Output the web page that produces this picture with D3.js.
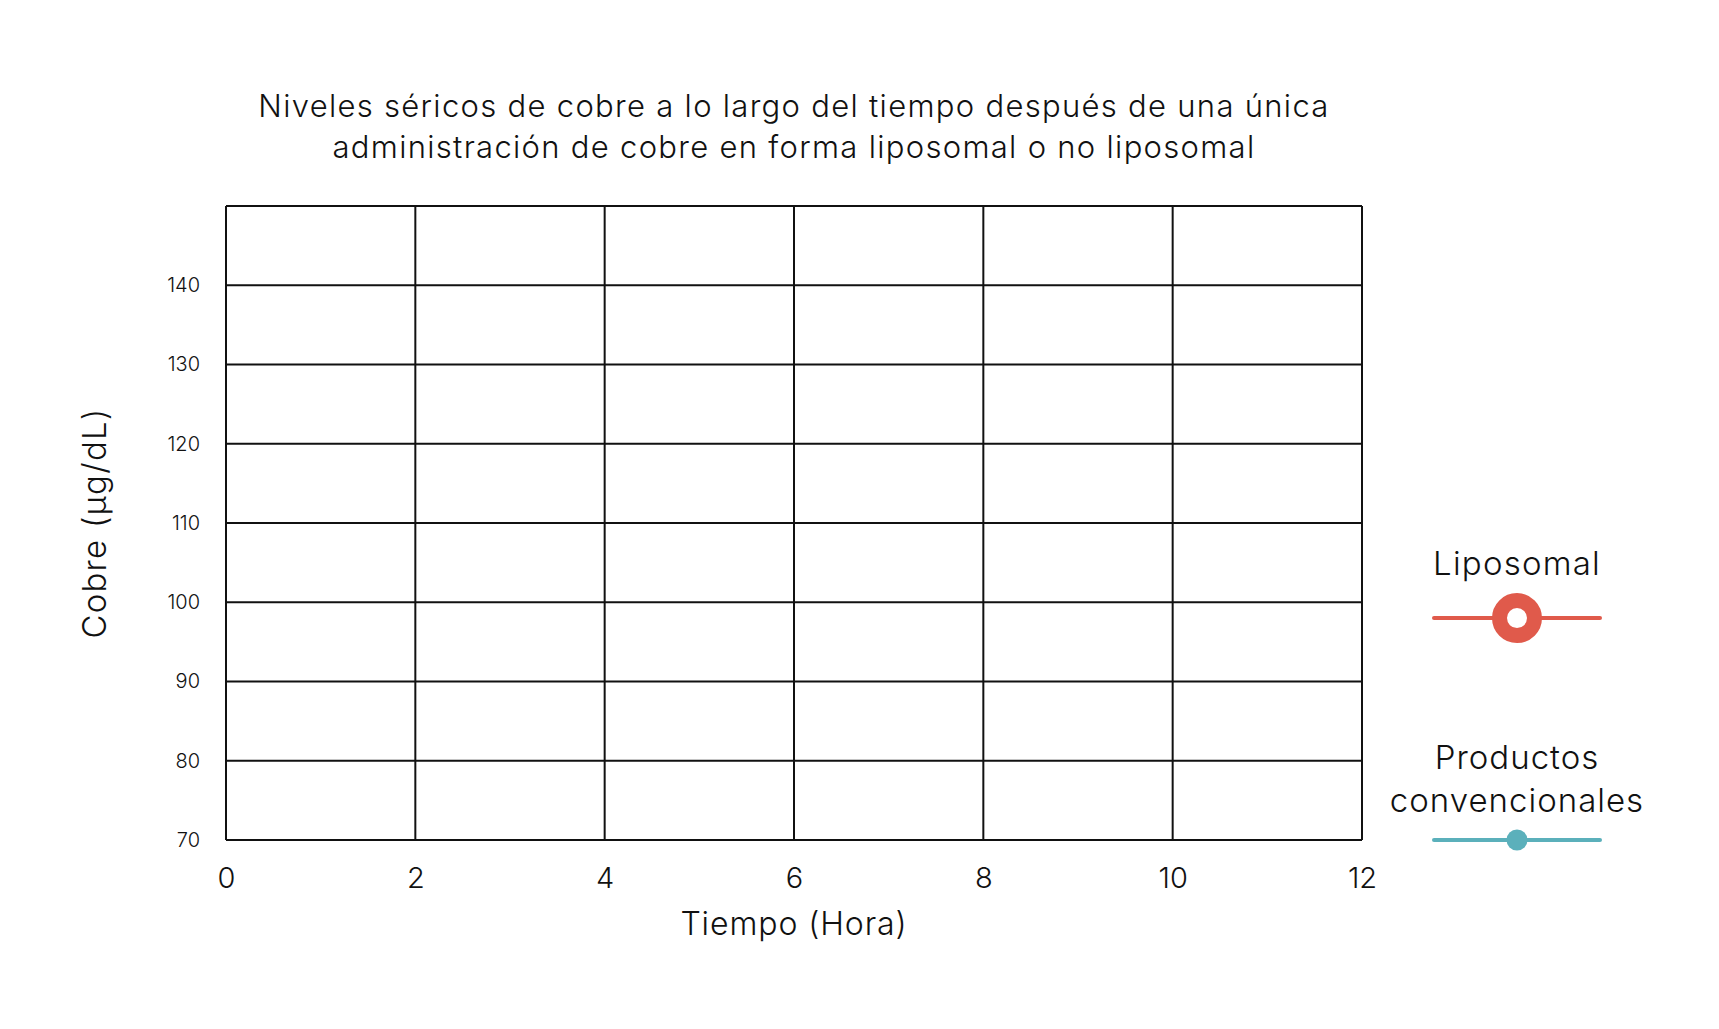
<!DOCTYPE html>
<html lang="es">

<head>
    <meta charset="UTF-8">
    <title>Niveles séricos de cobre</title>
    <style>
        body { margin: 0; background: #fff; }
        text { font-family: Inter, "Noto Sans", sans-serif; font-weight: 300; fill: #111; }
    </style>
</head>

<body>
    <script src="https://cdn.jsdelivr.net/npm/d3@7/dist/d3.min.js"></script>
    <script>
        // datos
        var titleLines = ['Niveles séricos de cobre a lo largo del tiempo después de una única',
            'administración de cobre en forma liposomal o no liposomal'];
        var xTicks = [0, 2, 4, 6, 8, 10, 12];
        var yGrid = [70, 80, 90, 100, 110, 120, 130, 140, 150];
        var yTicks = [70, 80, 90, 100, 110, 120, 130, 140];
        var seriesNames = ['Liposomal', 'Productos convencionales'];
        var seriesColors = ['#e05a4b', '#5bb0bb'];
        var seriesLast = [98, 70]; // valor donde se ubica la leyenda

        var W = 1719, H = 1029;
        var margin = { top: 206, left: 226, right: 357, bottom: 189 };
        var width = W - margin.left - margin.right;
        var height = H - margin.top - margin.bottom;

        var svg = d3.select('body').append('svg').attr('width', W).attr('height', H);
        var g = svg.append('g').attr('transform', 'translate(' + margin.left + ',' + margin.top + ')');

        var x = d3.scaleLinear().domain([0, 12]).range([0, width]);
        var y = d3.scaleLinear().domain([70, 150]).range([height, 0]);

        //rejilla vertical
        g.selectAll('.vgrid').data(xTicks).enter().append('line')
            .attr('x1', d => x(d)).attr('x2', d => x(d))
            .attr('y1', 0).attr('y2', height)
            .attr('stroke', '#111').attr('stroke-width', 2);
        //rejilla horizontal
        g.selectAll('.hgrid').data(yGrid).enter().append('line')
            .attr('x1', 0).attr('x2', width)
            .attr('y1', d => y(d)).attr('y2', d => y(d))
            .attr('stroke', '#111').attr('stroke-width', 2);

        //ejes (solo etiquetas)
        var xAxis = g.append('g').attr('transform', 'translate(0,' + height + ')')
            .call(d3.axisBottom(x).tickValues(xTicks).tickSize(0).tickPadding(27).tickFormat(d3.format('d')));
        xAxis.select('.domain').remove();
        xAxis.selectAll('text').style('font-size', '29px').style('font-family', 'Inter, sans-serif').attr('font-weight', 300);

        var yAxis = g.append('g')
            .call(d3.axisLeft(y).tickValues(yTicks).tickSize(0).tickPadding(26).tickFormat(d3.format('d')));
        yAxis.select('.domain').remove();
        yAxis.selectAll('text').style('font-size', '20px').style('font-family', 'Inter, sans-serif').attr('font-weight', 300);

        //titulo
        svg.append('text').attr('x', margin.left + width / 2).attr('y', 117)
            .attr('text-anchor', 'middle').style('font-size', '31px').style('letter-spacing', '1.3px')
            .selectAll('tspan').data(titleLines).enter().append('tspan')
            .attr('x', margin.left + width / 2).attr('dy', (d, i) => i ? 41 : 0).text(d => d);

        //titulos de ejes
        svg.append('text').attr('x', margin.left + width / 2).attr('y', 935)
            .attr('text-anchor', 'middle').style('font-size', '32px').style('letter-spacing', '0.9px').text('Tiempo (Hora)');
        svg.append('text').attr('transform', 'translate(106,' + (margin.top + height / 2) + ') rotate(-90)')
            .attr('text-anchor', 'middle').style('font-size', '33px').style('letter-spacing', '1.2px').text('Cobre (µg/dL)');

        //leyenda
        var lx = margin.left + width + 72, lw = 166;
        seriesNames.forEach(function (name, i) {
            var ly = margin.top + y(seriesLast[i]);
            var words = i === 0 ? [name] : name.split(' ');
            var t = svg.append('text').attr('text-anchor', 'middle').style('font-size', '33px').style('letter-spacing', i ? '1px' : '1.2px');
            words.forEach(function (w, j) {
                t.append('tspan').attr('x', lx + lw / 2)
                    .attr('y', ly - 28 - (words.length - 1 - j) * 43 - (i === 0 ? 15 : 0)).text(w);
            });
            svg.append('line').attr('x1', lx).attr('x2', lx + lw).attr('y1', ly).attr('y2', ly)
                .attr('stroke', seriesColors[i]).attr('stroke-width', 4).attr('stroke-linecap', 'round');
            if (i === 0) {
                svg.append('circle').attr('cx', lx + lw / 2).attr('cy', ly).attr('r', 17.5)
                    .attr('fill', '#fff').attr('stroke', seriesColors[i]).attr('stroke-width', 15);
            } else {
                svg.append('circle').attr('cx', lx + lw / 2).attr('cy', ly).attr('r', 10.5)
                    .attr('fill', seriesColors[i]);
            }
        });
    </script>
</body>

</html>
